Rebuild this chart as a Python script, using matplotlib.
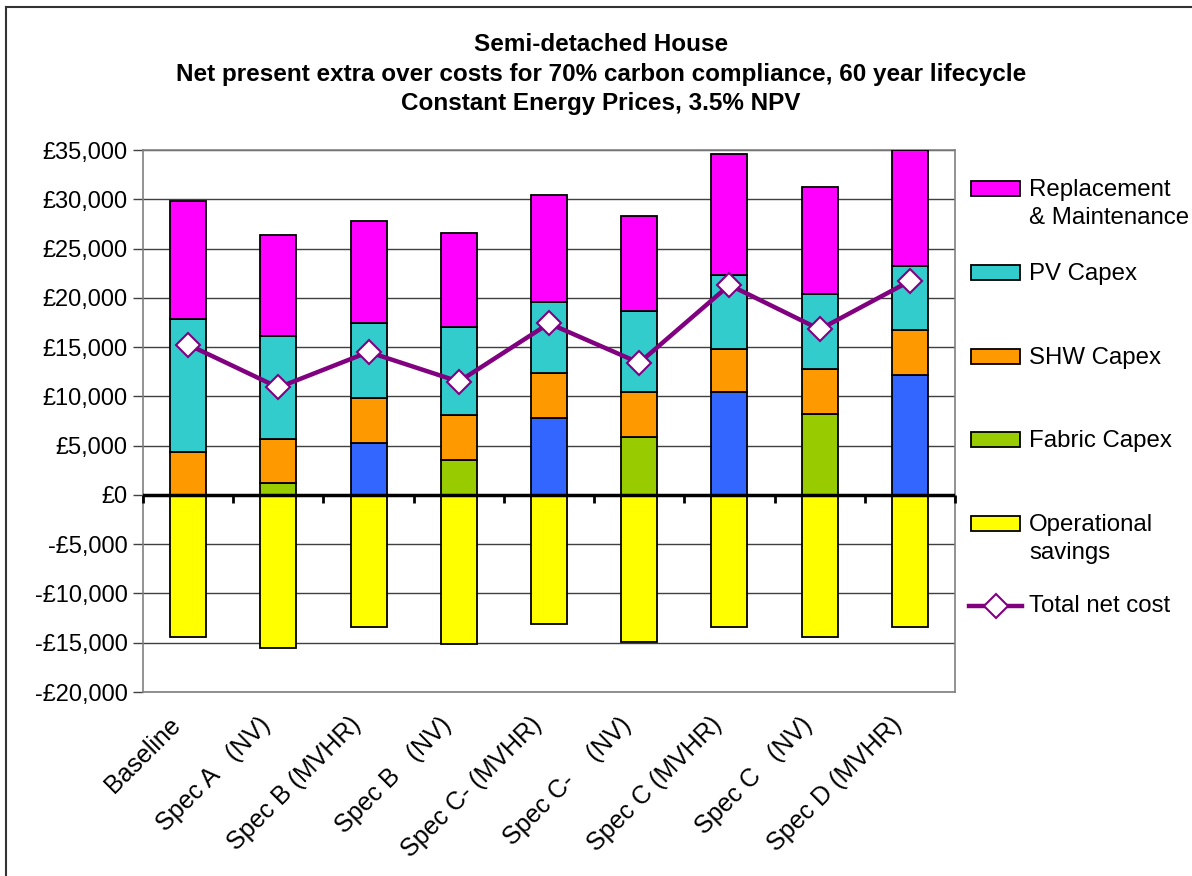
import numpy as np
import matplotlib
matplotlib.use("Agg")
import matplotlib.pyplot as plt
from matplotlib.patches import Rectangle
from matplotlib.lines import Line2D

plt.rcParams['font.family'] = ['Liberation Sans', 'DejaVu Sans']

# Data (GBP)
categories = ['Baseline', 'Spec A   (NV)', 'Spec B (MVHR)', 'Spec B   (NV)',
              'Spec C- (MVHR)', 'Spec C-    (NV)', 'Spec C (MVHR)',
              'Spec C   (NV)', 'Spec D (MVHR)']
fabric_capex = [0, 1200, 5300, 3500, 7800, 5900, 10400, 8200, 12200]
shw_capex = [4400, 4500, 4500, 4600, 4600, 4500, 4400, 4600, 4500]
pv_capex = [13400, 10400, 7600, 8900, 7200, 8300, 7500, 7600, 6500]
replacement = [12000, 10300, 10400, 9600, 10800, 9600, 12300, 10800, 11800]
operational = [-14450, -15500, -13400, -15150, -13100, -14900, -13400, -14400, -13400]
total_net = [15250, 10900, 14500, 11500, 17400, 13400, 21300, 16800, 21700]
mvhr = [False, False, True, False, True, False, True, False, True]

C_RM = '#FF00FF'
C_PV = '#33CCCC'
C_SHW = '#FF9900'
C_FAB = '#99CC00'
C_MVHR = '#3366FF'
C_OPS = '#FFFF00'
C_LINE = '#800080'

W, H = 1192, 876
fig = plt.figure(figsize=(W / 100, H / 100), dpi=100)
ax = fig.add_axes([143 / W, 1 - 692 / H, (955 - 143) / W, (692 - 150) / H])

x = np.arange(len(categories))
bw = 0.4
kw = dict(width=bw, edgecolor='black', linewidth=1.3, zorder=3)

fab_colors = [C_MVHR if m else C_FAB for m in mvhr]
bottom = np.zeros(len(x))
ax.bar(x, fabric_capex, bottom=bottom, color=fab_colors, **kw)
bottom += fabric_capex
ax.bar(x, shw_capex, bottom=bottom, color=C_SHW, **kw)
bottom += shw_capex
ax.bar(x, pv_capex, bottom=bottom, color=C_PV, **kw)
bottom += pv_capex
ax.bar(x, replacement, bottom=bottom, color=C_RM, **kw)
ax.bar(x, operational, color=C_OPS, **kw)

ax.plot(x, total_net, color=C_LINE, lw=3.2, marker='D', markersize=12,
        markerfacecolor='white', markeredgecolor=C_LINE, markeredgewidth=1.5,
        zorder=5)

# zero axis with category tick marks
ax.axhline(0, color='black', lw=2.5, zorder=4)
bounds = np.arange(-0.5, len(x), 1.0)
ax.plot(bounds, np.zeros(len(bounds)), linestyle='none', marker=3,
        markersize=6, markeredgewidth=2, color='black', zorder=4,
        clip_on=False)

ax.set_xlim(-0.5, len(x) - 0.5)
ax.set_ylim(-20000, 35000)
yt = np.arange(-20000, 35001, 5000)
ax.set_yticks(yt)
ax.set_yticklabels([('-' if v < 0 else '') + '£{:,}'.format(abs(v)) for v in yt],
                   fontsize=17)
ax.yaxis.grid(True, color='#404040', lw=1.0, zorder=0)
ax.tick_params(axis='y', length=7, width=1, color='#404040', pad=4)

# labels sit a little left of the bar centres, as in the original
ax.set_xticks(x - 0.22)
ax.set_xticklabels(categories, rotation=45, ha='right',
                   rotation_mode='anchor', fontsize=18)
ax.tick_params(axis='x', length=0, pad=15)

for s in ax.spines.values():
    s.set_color('#808080')
    s.set_linewidth(1.2)

fig.text(601 / W, 1 - 74 / H,
         'Semi-detached House\n'
         'Net present extra over costs for 70% carbon compliance, 60 year lifecycle\n'
         'Constant Energy Prices, 3.5% NPV',
         ha='center', va='center', fontsize=17.5, fontweight='bold',
         linespacing=1.38)

# legend, drawn entry by entry in figure pixels
leg_items = [('Replacement\n& Maintenance', C_RM, 188),
             ('PV Capex', C_PV, 272),
             ('SHW Capex', C_SHW, 356),
             ('Fabric Capex', C_FAB, 439),
             ('Operational\nsavings', C_OPS, 523)]
for label, col, yc in leg_items:
    fig.patches.append(Rectangle((971 / W, 1 - (yc + 7.5) / H), 49 / W, 15 / H,
                                 facecolor=col, edgecolor='black', lw=1.3,
                                 transform=fig.transFigure))
    fig.text(1029 / W, 1 - (yc - 9) / H, label, ha='left', va='top',
             fontsize=17.3, linespacing=1.38)
fig.lines.append(Line2D([969 / W, 1022 / W], [1 - 606 / H, 1 - 606 / H],
                        color=C_LINE, lw=3.2, transform=fig.transFigure))
fig.lines.append(Line2D([995.5 / W], [1 - 606 / H], marker='D', markersize=12,
                        markerfacecolor='white', markeredgecolor=C_LINE,
                        markeredgewidth=1.5, transform=fig.transFigure))
fig.text(1029 / W, 1 - 606 / H, 'Total net cost', ha='left', va='center',
         fontsize=17.3)

# chart frame
fig.lines.append(Line2D([6 / W, 6 / W], [0, 1 - 7 / H], color='#333333', lw=1.5,
                        transform=fig.transFigure))
fig.lines.append(Line2D([6 / W, 1], [1 - 7 / H, 1 - 7 / H], color='#333333',
                        lw=1.5, transform=fig.transFigure))

fig.savefig('out.png', dpi=100)
